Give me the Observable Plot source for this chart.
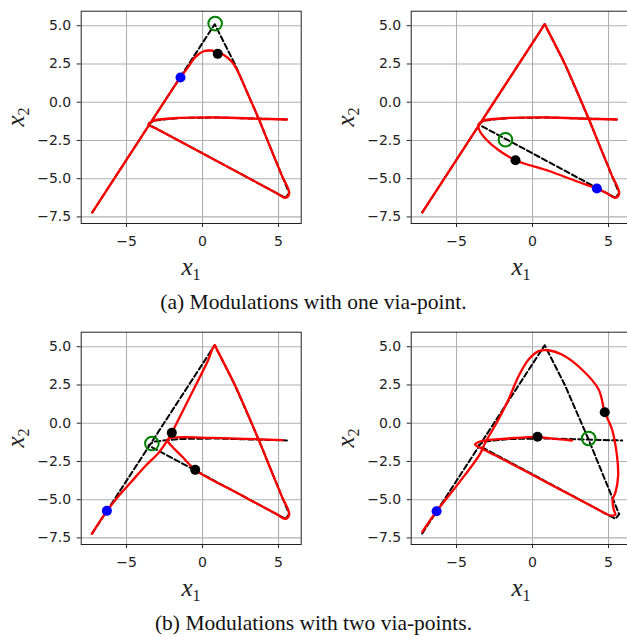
<!DOCTYPE html>
<html><head><meta charset="utf-8">
<script src="https://cdn.jsdelivr.net/npm/d3@7"></script>
<script src="https://cdn.jsdelivr.net/npm/@observablehq/plot@0.6"></script>
<style>
html,body{margin:0;padding:0;background:#fff;overflow:hidden;}
#wrap{position:relative;width:627px;height:637px;overflow:hidden;background:#fff;}
.panel{position:absolute;width:315px;height:290px;}
.panel svg{max-width:none !important;display:block;}
.lab{position:absolute;font-family:"Liberation Serif",serif;font-style:italic;font-size:25px;color:#222;white-space:nowrap;line-height:1;}
.lab sub{font-style:normal;font-size:16px;vertical-align:-5px;line-height:0;}
.ylab{transform:translate(-50%,-50%) rotate(-90deg);}
.xlab{transform:translate(-50%,-50%);}
.cap{position:absolute;width:627px;left:0;text-align:center;font-family:"Liberation Serif",serif;font-size:21.5px;color:#111;line-height:1;}
</style></head><body><div id="wrap"></div>
<script>
// ---- tick values ----
const xTicks = [-5, 0, 5];
const yTicks = [-7.5, -5, -2.5, 0, 2.5, 5];
const xDomain = [-7.98, 6.49];
const yDomain = [-7.93, 5.95];

// ---- demonstration (dashed) ----
const demo  = [[-7.25,-7.2],[0.8,5.1],[2.15,2.45],[3.7,-1.1],[5.2,-4.75],[5.7,-5.95],[5.45,-6.25],[-3.55,-1.45],[-3.2,-1.2],[-1.5,-1.03],[1.0,-1.0],[5.55,-1.13]];
const demo4 = [[-7.25,-7.2],[0.8,5.1],[2.15,2.45],[3.7,-1.1],[5.2,-4.75],[5.7,-5.95],[5.45,-6.25],[-3.55,-1.45],[-3.2,-1.2],[-1.5,-1.03],[1.0,-1.0],[5.9,-1.13]];

// ---- modulated trajectories (red) ----
const traj1 = [[-7.25,-7.2],[-3.5,-1.47],[-1.45,1.62],[-0.92,2.33],[-0.48,2.95],[0.07,3.33],[0.5,3.38],[0.9,3.3],[1.3,3.15],[1.93,2.64],[2.4,1.85],[2.9,0.72],[3.7,-1.1],[4.45,-2.93],[5.2,-4.75],[5.7,-5.95],[5.45,-6.25],[4.85,-5.93],[-2.9,-1.8],[-3.55,-1.45],[-3.2,-1.2],[-1.5,-1.03],[1.0,-1.0],[3.7,-1.08],[5.55,-1.13]];
const traj2 = [[-7.25,-7.2],[-3.5,-1.47],[0.55,4.72],[0.8,5.1],[0.95,4.81],[2.15,2.45],[3.7,-1.1],[4.45,-2.93],[5.2,-4.75],[5.7,-5.95],[5.45,-6.25],[4.85,-5.93],[4.23,-5.64],[2.84,-5.15],[1.08,-4.5],[-1.12,-3.79],[-2.22,-3.14],[-3.11,-2.37],[-3.5,-1.83],[-3.55,-1.45],[-3.2,-1.2],[-1.5,-1.03],[1.0,-1.0],[3.7,-1.08],[5.53,-1.13]];
const traj3 = [[-7.28,-7.23],[-6.29,-5.73],[-5.53,-4.77],[-4.65,-3.79],[-3.77,-2.81],[-2.89,-1.94],[-2.35,-1.18],[-2.02,-0.63],[-1.58,0.24],[-0.92,1.55],[-0.26,2.85],[0.39,4.16],[0.65,4.85],[0.8,5.1],[0.95,4.81],[2.15,2.45],[3.7,-1.1],[4.45,-2.93],[5.2,-4.75],[5.7,-5.95],[5.45,-6.25],[4.85,-5.93],[2.5,-4.68],[-0.48,-3.05],[-1.36,-2.16],[-2.02,-1.5],[-2.28,-1.18],[-2.2,-1.0],[-1.58,-0.92],[0.61,-0.96],[2.81,-1.02],[5.26,-1.11]];
const traj4 = [[-7.25,-7.1],[-6.31,-5.76],[-4.88,-3.95],[-3.45,-2.0],[-3.12,-1.29],[-2.24,0.24],[-1.58,1.55],[-0.92,3.07],[-0.26,4.16],[0.4,4.71],[1.05,4.77],[1.93,4.49],[3.25,3.51],[4.35,2.2],[4.75,0.72],[5.23,-0.41],[5.56,-2.16],[5.63,-3.46],[5.45,-4.55],[5.27,-4.99],[5.34,-5.64],[5.45,-5.97],[5.3,-6.04],[5.01,-6.0],[4.13,-5.55],[1.71,-4.28],[-0.48,-3.12],[-2.46,-2.1],[-3.45,-1.61],[-3.78,-1.39],[-3.67,-1.29],[-3.12,-1.13],[-1.58,-1.0],[0.33,-0.89],[1.05,-0.98],[2.59,-1.13]];

// ---- markers: via-point target (green), reached (black), start (blue) ----
const green1 = [[0.83,5.14]];   const black1 = [[1.0,3.16]];                   const blue1 = [[-1.45,1.62]];
const green2 = [[-1.78,-2.45]]; const black2 = [[-1.12,-3.79]];                const blue2 = [[4.23,-5.64]];
const green3 = [[-3.33,-1.33]]; const black3 = [[-2.02,-0.63],[-0.48,-3.05]];  const blue3 = [[-6.29,-5.73]];
const green4 = [[3.69,-1.0]];   const black4 = [[4.75,0.72],[0.33,-0.89]];     const blue4 = [[-6.31,-5.76]];

const captions = ["(a) Modulations with one via-point.", "(b) Modulations with two via-points."];

const fmtY = d => (d < 0 ? "\u2212" : "") + Math.abs(d).toFixed(1);
const fmtX = d => (d < 0 ? "\u2212" : "") + Math.abs(d);
const X = d => d[0], Y = d => d[1];

function panel(traj, dash, green, black, blue) {
  return Plot.plot({
    width: 315, height: 290,
    marginLeft: 80.7, marginRight: 14.3, marginTop: 10.7, marginBottom: 67,
    style: {fontFamily: "'DejaVu Sans', sans-serif", fontSize: "14px", color: "#222", background: "transparent", maxWidth: "none"},
    x: {domain: xDomain},
    y: {domain: yDomain},
    marks: [
      Plot.gridX(xTicks, {stroke: "#b0b0b0", strokeOpacity: 1, strokeWidth: 1.1}),
      Plot.gridY(yTicks, {stroke: "#b0b0b0", strokeOpacity: 1, strokeWidth: 1.1}),
      Plot.line(dash, {x: X, y: Y, stroke: "#000", strokeWidth: 2, strokeDasharray: "5.5,3"}),
      Plot.line(traj, {x: X, y: Y, stroke: "#ff0000", strokeWidth: 2.3, curve: "catmull-rom"}),
      Plot.dot(green, {x: X, y: Y, r: 6.8, stroke: "#008000", strokeWidth: 2, fill: "none"}),
      Plot.dot(black, {x: X, y: Y, r: 5, fill: "#000", stroke: "none"}),
      Plot.dot(blue, {x: X, y: Y, r: 5, fill: "#0000ff", stroke: "none"}),
      Plot.frame({stroke: "#222", strokeWidth: 1}),
      Plot.axisX(xTicks, {tickSize: 4, tickPadding: 9, tickFormat: fmtX, label: null, fontSize: 14}),
      Plot.axisY(yTicks, {tickSize: 4, tickPadding: 6, tickFormat: fmtY, label: null, fontSize: 14})
    ]
  });
}

const wrap = document.getElementById("wrap");
const specs = [
  {traj: traj1, dash: demo,  green: green1, black: black1, blue: blue1, left: 0,   top: 0},
  {traj: traj2, dash: demo,  green: green2, black: black2, blue: blue2, left: 330, top: 0},
  {traj: traj3, dash: demo,  green: green3, black: black3, blue: blue3, left: 0,   top: 321},
  {traj: traj4, dash: demo4, green: green4, black: black4, blue: blue4, left: 330, top: 321}
];
for (const s of specs) {
  const div = document.createElement("div");
  div.className = "panel";
  div.style.left = s.left + "px";
  div.style.top = s.top + "px";
  div.appendChild(panel(s.traj, s.dash, s.green, s.black, s.blue));
  wrap.appendChild(div);
  const xl = document.createElement("div");
  xl.className = "lab xlab";
  xl.innerHTML = "x<sub>1</sub>";
  xl.style.left = (s.left + 191) + "px";
  xl.style.top = (s.top + 266) + "px";
  wrap.appendChild(xl);
  const yl = document.createElement("div");
  yl.className = "lab ylab";
  yl.innerHTML = "x<sub>2</sub>";
  yl.style.left = (s.left + 15) + "px";
  yl.style.top = (s.top + 117) + "px";
  wrap.appendChild(yl);
}
captions.forEach((c, i) => {
  const d = document.createElement("div");
  d.className = "cap";
  d.textContent = c;
  d.style.top = (i === 0 ? 292 : 613) + "px";
  wrap.appendChild(d);
});
</script></body></html>
